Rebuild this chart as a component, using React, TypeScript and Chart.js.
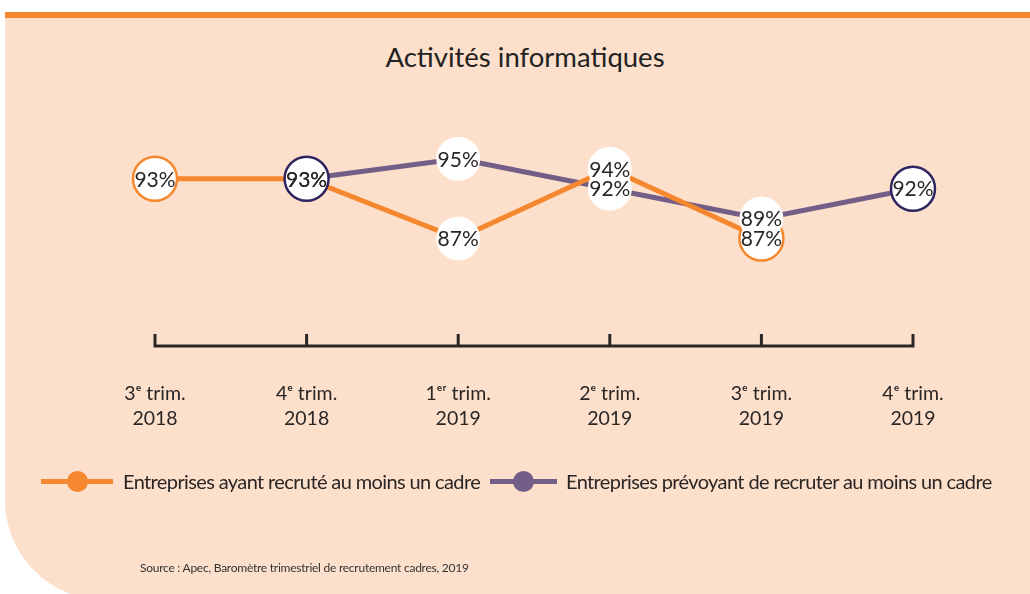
import React, { useEffect, useRef } from "react";
import { Chart, registerables } from "chart.js";

Chart.register(...registerables);

// ---- data ----
const quarterLabels: string[][] = [
  ["3ᵉ trim.", "2018"],
  ["4ᵉ trim.", "2018"],
  ["1ᵉʳ trim.", "2019"],
  ["2ᵉ trim.", "2019"],
  ["3ᵉ trim.", "2019"],
  ["4ᵉ trim.", "2019"],
];
const recruited: (number | null)[] = [93, 93, 87, 94, 87, null];
const planned: (number | null)[] = [null, 93, 95, 92, 89, 92];
const seriesNames = [
  "Entreprises ayant recruté au moins un cadre",
  "Entreprises prévoyant de recruter au moins un cadre",
];
const titleText = "Activités informatiques";
const sourceText = "Source : Apec, Baromètre trimestriel de recrutement cadres, 2019";

// ---- styles ----
const ORANGE = "#f5882e";
const PURPLE = "#735e88";
const NAVY = "#2e2460";
const TEXT = "#2a2626";
const PEACH = "#fde0cb";
const FONT = "Lato, 'Noto Sans', sans-serif";

function isEndpoint(data: (number | null)[], i: number) {
  let first = -1;
  let last = -1;
  data.forEach((v, k) => {
    if (v != null) {
      if (first < 0) first = k;
      last = k;
    }
  });
  return i === first || i === last;
}

const axisPlugin = {
  id: "axisLine",
  afterDatasetsDraw(chart: any) {
    const xs = chart.scales.x;
    const ctx = chart.ctx;
    const y = chart.chartArea.bottom;
    const n = chart.data.labels.length;
    ctx.save();
    ctx.strokeStyle = TEXT;
    ctx.lineWidth = 3;
    ctx.lineCap = "butt";
    ctx.beginPath();
    ctx.moveTo(xs.getPixelForTick(0) - 1.5, y);
    ctx.lineTo(xs.getPixelForTick(n - 1) + 1.5, y);
    for (let i = 0; i < n; i++) {
      const x = xs.getPixelForTick(i);
      ctx.moveTo(x, y + 1.5);
      ctx.lineTo(x, y - 12);
    }
    ctx.stroke();
    ctx.restore();
  },
};

const valueLabelPlugin = {
  id: "valueLabels",
  afterDatasetsDraw(chart: any) {
    const ctx = chart.ctx;
    ctx.save();
    ctx.font = `21px ${FONT}`;
    ctx.fillStyle = TEXT;
    ctx.textAlign = "center";
    ctx.textBaseline = "middle";
    chart.data.datasets.forEach((ds: any, i: number) => {
      if (!ds.showValues) return;
      const meta = chart.getDatasetMeta(i);
      meta.data.forEach((pt: any, j: number) => {
        const v = ds.data[j];
        if (v == null) return;
        ctx.fillText(`${v}%`, pt.x, pt.y + 1);
      });
    });
    ctx.restore();
  },
};

export default function App() {
  const canvasRef = useRef<HTMLCanvasElement | null>(null);

  useEffect(() => {
    document.body.style.margin = "0";
    const canvas = canvasRef.current;
    if (!canvas) return;
    const pointSet = (data: (number | null)[], border: string, label: string) => ({
      label,
      data,
      showLine: false,
      showValues: true,
      pointRadius: 22,
      pointHoverRadius: 22,
      pointBackgroundColor: "#ffffff",
      pointBorderColor: border,
      pointBorderWidth: (c: any) => (isEndpoint(data, c.dataIndex) ? 2.5 : 0),
    });
    const lineSet = (data: (number | null)[], color: string, label: string) => ({
      label,
      data,
      borderColor: color,
      borderWidth: 5,
      pointRadius: 0,
      pointHoverRadius: 0,
      fill: false,
      tension: 0,
    });
    const chart = new Chart(canvas, {
      type: "line",
      data: {
        labels: quarterLabels as any,
        datasets: [
          pointSet(planned, NAVY, seriesNames[1]) as any,
          pointSet(recruited, ORANGE, seriesNames[0]) as any,
          lineSet(recruited, ORANGE, seriesNames[0]) as any,
          lineSet(planned, PURPLE, seriesNames[1]) as any,
        ],
      },
      options: {
        responsive: false,
        animation: false,
        devicePixelRatio: 1,
        layout: { padding: { left: 155, right: 117, top: 118, bottom: 136 } },
        plugins: {
          legend: { display: false },
          tooltip: { enabled: false },
          title: { display: false },
        },
        events: [],
        scales: {
          x: {
            type: "category",
            offset: false,
            grid: { display: false },
            border: { display: false },
            ticks: {
              color: TEXT,
              font: { family: FONT, size: 19.5, lineHeight: 1.3 },
              padding: 26.6,
              maxRotation: 0,
              autoSkip: false,
            },
          },
          y: {
            display: false,
            min: 76.2,
            max: 99.1,
          },
        },
      },
      plugins: [axisPlugin, valueLabelPlugin],
    });
    return () => chart.destroy();
  }, []);

  const legendItem = (left: number, textLeft: number, lineW: number, color: string, text: string) => (
    <>
      <div
        style={{
          position: "absolute",
          left,
          top: 478.5,
          width: lineW,
          height: 5,
          background: color,
        }}
      />
      <div
        style={{
          position: "absolute",
          left: left + lineW / 2 - 10.5,
          top: 470.5,
          width: 21,
          height: 21,
          borderRadius: "50%",
          background: color,
        }}
      />
      <div
        style={{
          position: "absolute",
          left: textLeft,
          top: 468,
          fontFamily: FONT,
          fontSize: 20,
          letterSpacing: "-0.62px",
          lineHeight: "26px",
          color: TEXT,
          whiteSpace: "nowrap",
        }}
      >
        {text}
      </div>
    </>
  );

  return (
    <div
      style={{
        position: "relative",
        width: 1030,
        height: 594,
        overflow: "hidden",
        background: "#ffffff",
      }}
    >
      <div
        style={{
          position: "absolute",
          left: 5,
          top: 12,
          width: 1030,
          height: 588,
          background: PEACH,
          borderTop: `6px solid ${ORANGE}`,
          borderBottomLeftRadius: 100,
          boxSizing: "border-box",
        }}
      />
      <div
        style={{
          position: "absolute",
          left: 0,
          width: 1050,
          top: 39,
          textAlign: "center",
          fontFamily: FONT,
          fontSize: 27.5,
          fontWeight: 400,
          lineHeight: "36px",
          color: "#222222",
        }}
      >
        {titleText}
      </div>
      <canvas
        ref={canvasRef}
        width={1030}
        height={594}
        style={{ position: "absolute", left: 0, top: 0, width: 1030, height: 594 }}
      />
      {legendItem(41, 123, 72, ORANGE, seriesNames[0])}
      {legendItem(490, 566, 67, PURPLE, seriesNames[1])}
      <div
        style={{
          position: "absolute",
          left: 140,
          top: 560,
          fontFamily: FONT,
          fontSize: 12,
          letterSpacing: "-0.25px",
          lineHeight: "16px",
          color: "#333333",
          whiteSpace: "nowrap",
        }}
      >
        {sourceText}
      </div>
    </div>
  );
}
